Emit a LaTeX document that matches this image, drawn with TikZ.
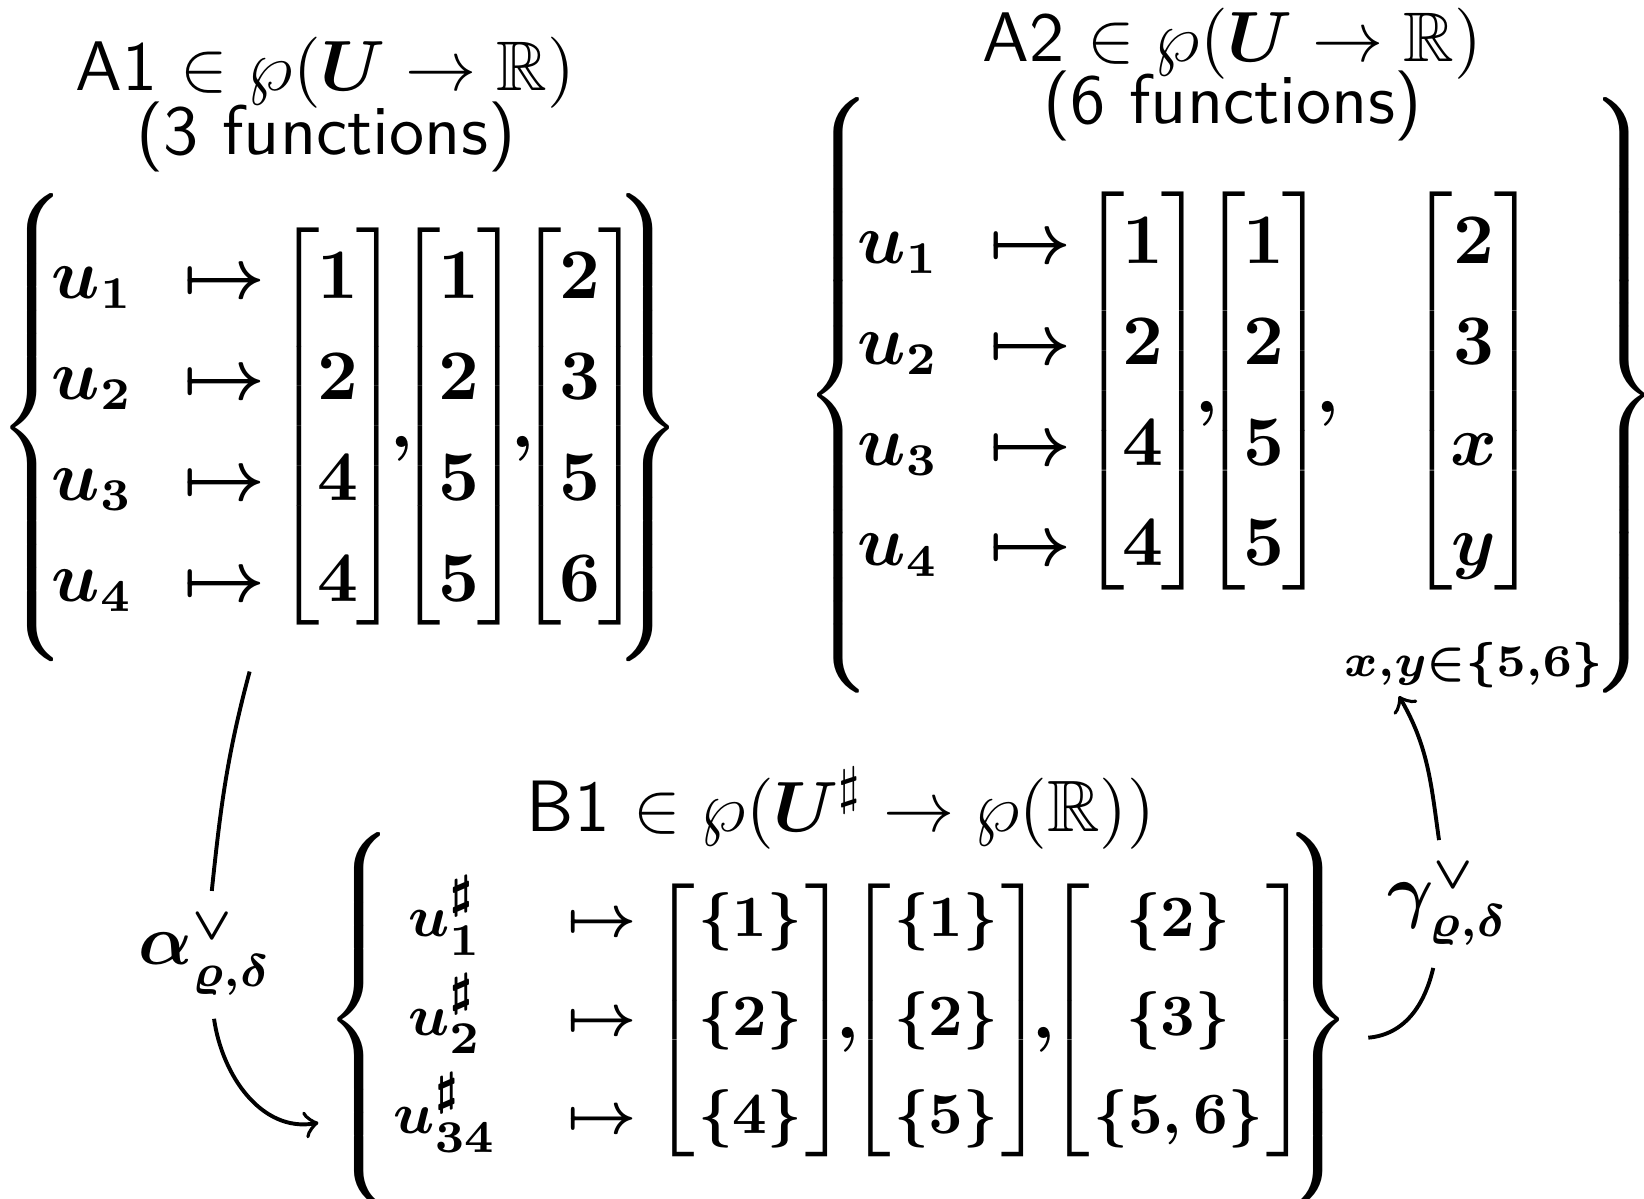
\documentclass[tikz,border=0pt]{standalone}
\usepackage{amsmath,amssymb}
\usetikzlibrary{matrix,calc}

\tikzset{
  rowsA/.style={matrix of math nodes, inner sep=0pt, outer sep=0pt,
    row sep=0.046cm, column sep=0.273cm,
    nodes={inner sep=0pt, anchor=center, text height=0.37cm, text depth=0.13cm,
      font=\fontsize{10.5}{12}\selectfont\boldmath}},
  rowsB/.style={matrix of math nodes, inner sep=0pt, outer sep=0pt,
    row sep=0.112cm, column sep=0.38cm,
    nodes={inner sep=0pt, anchor=center, text height=0.294cm, text depth=0.127cm,
      font=\fontsize{9.5}{11}\selectfont\boldmath}},
  colvec/.style={left delimiter={[}, right delimiter={]}},
  setbrace/.style={inner sep=0pt, outer sep=0pt, left delimiter=\{, right delimiter=\}},
  settitle/.style={anchor=base, font=\sffamily\fontsize{10.8}{13}\selectfont},
  sepcomma/.style={anchor=base, inner sep=0pt, font=\fontsize{10.5}{12}\selectfont\boldmath},
  maplabel/.style={font=\fontsize{10.5}{12}\selectfont\boldmath},
  maparrow/.style={->, semithick},
  every delimiter/.style={font=\fontsize{10.2}{12}\selectfont},
  every left delimiter/.style={xshift=0.055cm},
  every right delimiter/.style={xshift=-0.055cm},
}

\begin{document}
\begin{tikzpicture}
  \useasboundingbox (0,0) rectangle (8.891,6.484);

  % outer set braces
  \begin{scope}[every delimiter/.style={font=\fontsize{12}{14}\selectfont},
      every left delimiter/.style={}, every right delimiter/.style={}]
    \node[setbrace, minimum width=2.873cm, minimum height=2.64cm] (A1set) at (1.840,4.172) {};
    \node[setbrace, minimum width=4.728cm, minimum height=2.05cm] (B1set) at (4.536,0.972) {};
    \begin{scope}[every delimiter/.style={font=\fontsize{11.75}{14}\selectfont}]
      \node[setbrace, minimum width=3.801cm, minimum height=3.25cm] (A2set) at (6.660,4.345) {};
    \end{scope}
  \end{scope}

  % A1
  \node[settitle] (A1title) at (1.758,5.997) {A1 $\in \wp(\boldsymbol{U} \to \mathbb{R})$};
  \node[settitle] (A1count) at (1.763,5.646) {(3 functions)};
  \matrix (A1keys) [rowsA] at (0.858,4.172) {
    u_1 & \mapsto \\
    u_2 & \mapsto \\
    u_3 & \mapsto \\
    u_4 & \mapsto \\
  };
  \matrix (A1v1) [rowsA, colvec] at (1.828,4.172) {1\\2\\4\\4\\};
  \matrix (A1v2) [rowsA, colvec] at (2.482,4.172) {1\\2\\5\\5\\};
  \matrix (A1v3) [rowsA, colvec] at (3.137,4.172) {2\\3\\5\\6\\};
  \node[sepcomma] at ([xshift=0.235cm,yshift=-0.11cm]A1v1.east) {$,$};
  \node[sepcomma] at ([xshift=0.235cm,yshift=-0.11cm]A1v2.east) {$,$};

  % A2
  \node[settitle] (A2title) at (6.663,6.154) {A2 $\in \wp(\boldsymbol{U} \to \mathbb{R})$};
  \node[settitle] (A2count) at (6.668,5.814) {(6 functions)};
  \matrix (A2keys) [rowsA] at (5.215,4.362) {
    u_1 & \mapsto \\
    u_2 & \mapsto \\
    u_3 & \mapsto \\
    u_4 & \mapsto \\
  };
  \matrix (A2v1) [rowsA, colvec] at (6.181,4.362) {1\\2\\4\\4\\};
  \matrix (A2v2) [rowsA, colvec] at (6.836,4.362) {1\\2\\5\\5\\};
  \matrix (A2v3) [rowsA, colvec] at (7.971,4.362) {2\\3\\x\\y\\};
  \node[sepcomma] at ([xshift=0.235cm,yshift=-0.11cm]A2v1.east) {$,$};
  \node[sepcomma] at ([xshift=0.235cm,yshift=-0.11cm]A2v2.east) {$,$};
  \node[anchor=base, inner sep=1pt, font=\fontsize{10.5}{12}\selectfont\boldmath]
    (A2xy) at (7.966,2.823) {$\scriptstyle x,y\in\{5,6\}$};

  % B1
  \node[settitle, font=\sffamily\fontsize{11.2}{13}\selectfont] (B1title) at (4.548,1.985)
    {B1 $\in \wp(\boldsymbol{U}^\sharp \to \wp(\mathbb{R}))$};
  \begin{scope}[every delimiter/.style={},
      every left delimiter/.style={xshift=0.022cm},
      every right delimiter/.style={xshift=-0.022cm}]
    \matrix (B1keys) [rowsB] at (2.785,0.968) {
      u^\sharp_{1} & \mapsto \\
      u^\sharp_{2} & \mapsto \\
      u^\sharp_{34} & \mapsto \\
    };
    \matrix (B1v1) [rowsB, colvec] at (4.056,0.968) {\{1\}\\\{2\}\\\{4\}\\};
    \matrix (B1v2) [rowsB, colvec] at (5.116,0.968) {\{1\}\\\{2\}\\\{5\}\\};
    \matrix (B1v3) [rowsB, colvec] at (6.371,0.968) {\{2\}\\\{3\}\\\{5,6\}\\};
  \end{scope}
  \node[sepcomma] at ([xshift=0.25cm,yshift=-0.10cm]B1v1.east) {$,$};
  \node[sepcomma] at ([xshift=0.25cm,yshift=-0.10cm]B1v2.east) {$,$};

  % abstraction and concretisation
  \node[maplabel] (alpha) at (1.109,1.320) {$\alpha^{\vee}_{\varrho,\delta}$};
  \node[maplabel] (gamma) at (7.831,1.595) {$\gamma^{\vee}_{\varrho,\delta}$};
  \draw[maparrow] ([xshift=-0.49cm]A1set.south) to[out=-105,in=84] (alpha)
    to[out=-82,in=190] ([shift={(-0.45,-0.56)}]B1set.west);
  \draw[maparrow] ([shift={(0.50,-0.10)}]B1set.east) to[out=5,in=-103] (gamma)
    to[out=98,in=-60] ([xshift=-0.40cm]A2xy.south);
\end{tikzpicture}
\end{document}
